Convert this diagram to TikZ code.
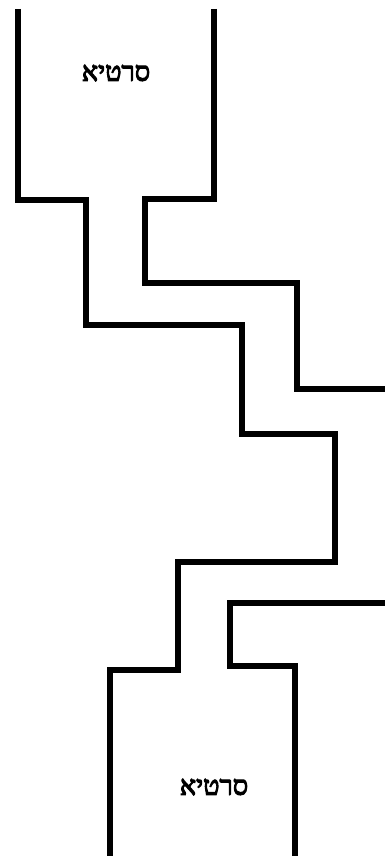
\documentclass[tikz,border=0pt]{standalone}
\usepackage{fontspec}
\TeXXeTstate=1
\newfontfamily\hebfont[Script=Hebrew,FakeBold=4]{Liberation Serif}
\tikzset{
  wall/.style={draw=black, line width=5.5pt, line join=miter},
  label/.style={font=\hebfont\fontsize{27}{30}\selectfont, inner sep=0pt}
}
\begin{document}
\begin{tikzpicture}[x=1pt,y=-1pt]
\useasboundingbox (0,0) rectangle (385,856);
% left wall
\draw[wall] (18,9) -- (18,200) -- (86,200) -- (86,325) -- (242,325) -- (242,434)
  -- (335,434) -- (335,562) -- (178,562) -- (178,670) -- (110,670) -- (110,856);
% upper right wall
\draw[wall] (214,9) -- (214,199) -- (145,199) -- (145,283) -- (297,283) -- (297,389) -- (385,389);
% lower right wall
\draw[wall] (385,603) -- (230,603) -- (230,666) -- (295,666) -- (295,856);
\node[label] (top) at (116,73) {\beginR סרטיא\endR};
\node[label] (bottom) at (214,787) {\beginR סרטיא\endR};
\end{tikzpicture}
\end{document}
